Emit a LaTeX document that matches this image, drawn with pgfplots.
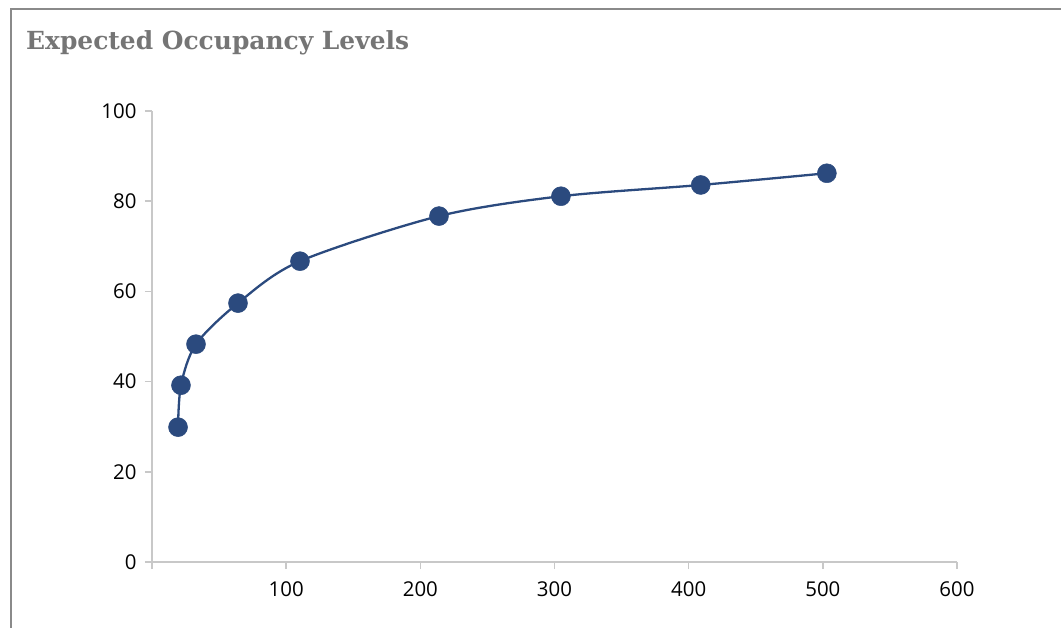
\documentclass[border=0pt]{standalone}
\usepackage{pgfplots}
\pgfplotsset{compat=1.18}
\usepackage{fontspec}
\setmainfont{Open Sans}
\newfontfamily\titlefont{DejaVu Serif}
\definecolor{axisgray}{HTML}{C8C8C8}
\definecolor{framegray}{HTML}{8A8A8A}
\definecolor{titlegray}{HTML}{757575}
\definecolor{ptblue}{HTML}{2B4A7E}

\begin{document}
\begin{tikzpicture}
\useasboundingbox (0bp,0bp) rectangle (1061bp,628bp);
\draw[framegray, line width=2bp] (11bp,-5bp) -- (11bp,619bp) -- (1070bp,619bp);
\node[anchor=base west, text=titlegray, inner sep=0,
      font=\titlefont\bfseries\fontsize{25}{30}\selectfont] at (26bp,578bp) {Expected Occupancy Levels};
\begin{axis}[
  at={(152bp,66bp)}, anchor=south west,
  scale only axis, width=805bp, height=451bp,
  xmin=0, xmax=600, ymin=0, ymax=100,
  axis lines=left,
  axis line style={axisgray, line width=1.6bp, -},
  tick style={axisgray, line width=1.6bp},
  major tick length=7bp,
  tick align=outside,
  xtick={0,100,...,600},
  xticklabels={,100,200,300,400,500,600},
  ytick={0,20,...,100},
  tick label style={font=\fontsize{20.5}{24}\selectfont, text=black},
  xticklabel style={yshift=-9bp},
  yticklabel style={xshift=-5bp},
  /pgf/number format/assume math mode=true,
  clip=false,
]
\addplot[ptblue, line width=2.3bp, smooth, tension=0.5,
  mark=*, mark size=9.5bp, mark options={fill=ptblue, draw=ptblue, line width=0.5bp}]
  coordinates {
    (19.4, 29.9)
    (21.6, 39.2)
    (32.8, 48.3)
    (64.1, 57.4)
    (110.3, 66.7)
    (213.9, 76.7)
    (304.8, 81.1)
    (409.0, 83.6)
    (503.0, 86.2)
  };
\end{axis}
\end{tikzpicture}
\end{document}
